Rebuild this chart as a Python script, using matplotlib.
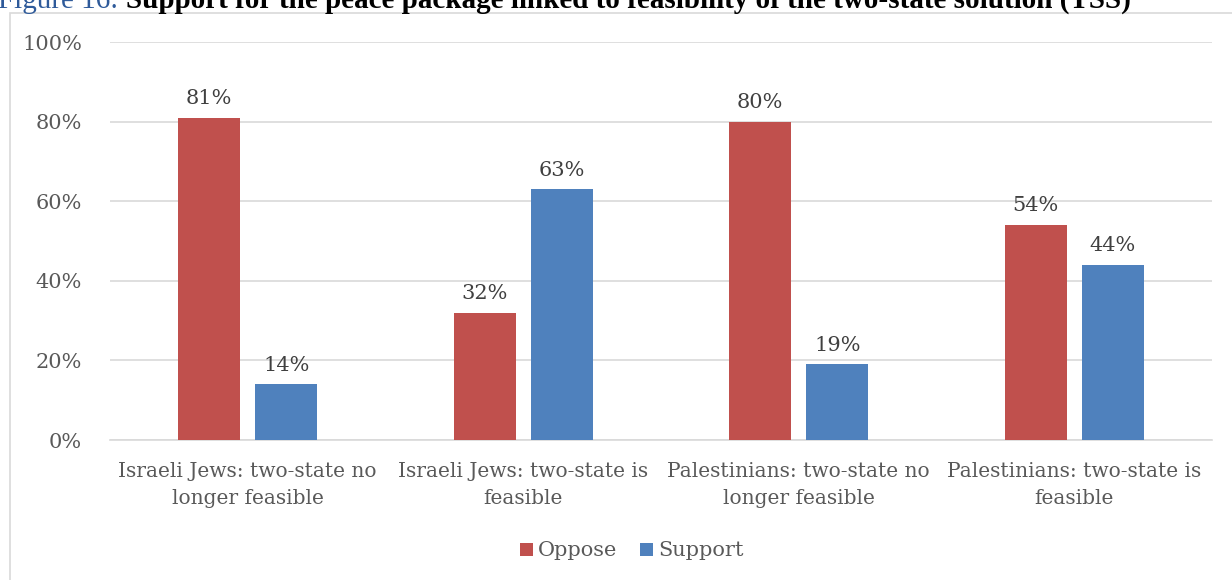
import numpy as np
import matplotlib
matplotlib.use('Agg')
from matplotlib import pyplot as plt
from matplotlib.patches import Rectangle
from matplotlib.text import Annotation

categories = ['Israeli Jews: two-state no\nlonger feasible',
              'Israeli Jews: two-state is\nfeasible',
              'Palestinians: two-state no\nlonger feasible',
              'Palestinians: two-state is\nfeasible']
oppose = [81, 32, 80, 54]
support = [14, 63, 19, 44]
y_ticks = [0, 20, 40, 60, 80, 100]

RED = '#C0504D'
BLUE = '#4F81BD'
TEXT = '#595959'
GRID = '#D9D9D9'
W, H = 1232, 580

plt.rcParams['font.family'] = ['DejaVu Serif']

fig = plt.figure(figsize=(W / 100, H / 100), dpi=100)
ax = fig.add_axes([110 / W, 1 - 440 / H, (1212 - 110) / W, (440 - 42) / H])

# chart frame (cut by the page on the right and bottom)
fig.patches.append(Rectangle((10 / W, -0.05), 1.0, 1 - 13 / H + 0.05,
                             transform=fig.transFigure, fill=False,
                             edgecolor=GRID, linewidth=1.2))

x = np.arange(len(categories))
bw = 0.225
off = 0.14
b1 = ax.bar(x - off, oppose, bw, color=RED, label='Oppose', zorder=3)
b2 = ax.bar(x + off, support, bw, color=BLUE, label='Support', zorder=3)
for bars in (b1, b2):
    ax.bar_label(bars, labels=[f'{v}%' for v in bars.datavalues],
                 padding=7, fontsize=15, color='#404040')

ax.set_xlim(-0.5, len(categories) - 0.5)
ax.set_ylim(0, 100)
ax.set_yticks(y_ticks)
ax.set_yticklabels([f'{v}%' for v in y_ticks])
ax.set_xticks(x)
ax.set_xticklabels(categories, linespacing=1.55)
ax.tick_params(axis='y', length=0, pad=20, labelsize=15, labelcolor=TEXT)
ax.tick_params(axis='x', length=0, pad=16, labelsize=14.5, labelcolor=TEXT)
ax.grid(axis='y', color=GRID, linewidth=1.2, zorder=0)
for s in ['top', 'right', 'left']:
    ax.spines[s].set_visible(False)
ax.spines['bottom'].set_color(GRID)
ax.spines['bottom'].set_linewidth(1.2)

fig.legend(loc='center', bbox_to_anchor=(632 / W, 1 - 551 / H), ncol=2,
           frameon=False, fontsize=15, labelcolor=TEXT,
           handlelength=0.6, handleheight=0.6, handletextpad=0.25,
           columnspacing=1.1)

# caption at the top, partly cut by the page edge
t1 = fig.text(-2 / W, 1 - 8 / H, 'Figure 16: ', color='#2E5A9A',
              fontsize=21, family='Liberation Serif', va='baseline')
fig.add_artist(Annotation(
    'Support for the peace package linked to feasibility of the two-state solution (TSS)',
    xy=(1, 0), xycoords=t1, va='bottom', fontsize=21,
    family='Liberation Serif', fontweight='bold', color='black'))

fig.savefig('out.png', dpi=100)
